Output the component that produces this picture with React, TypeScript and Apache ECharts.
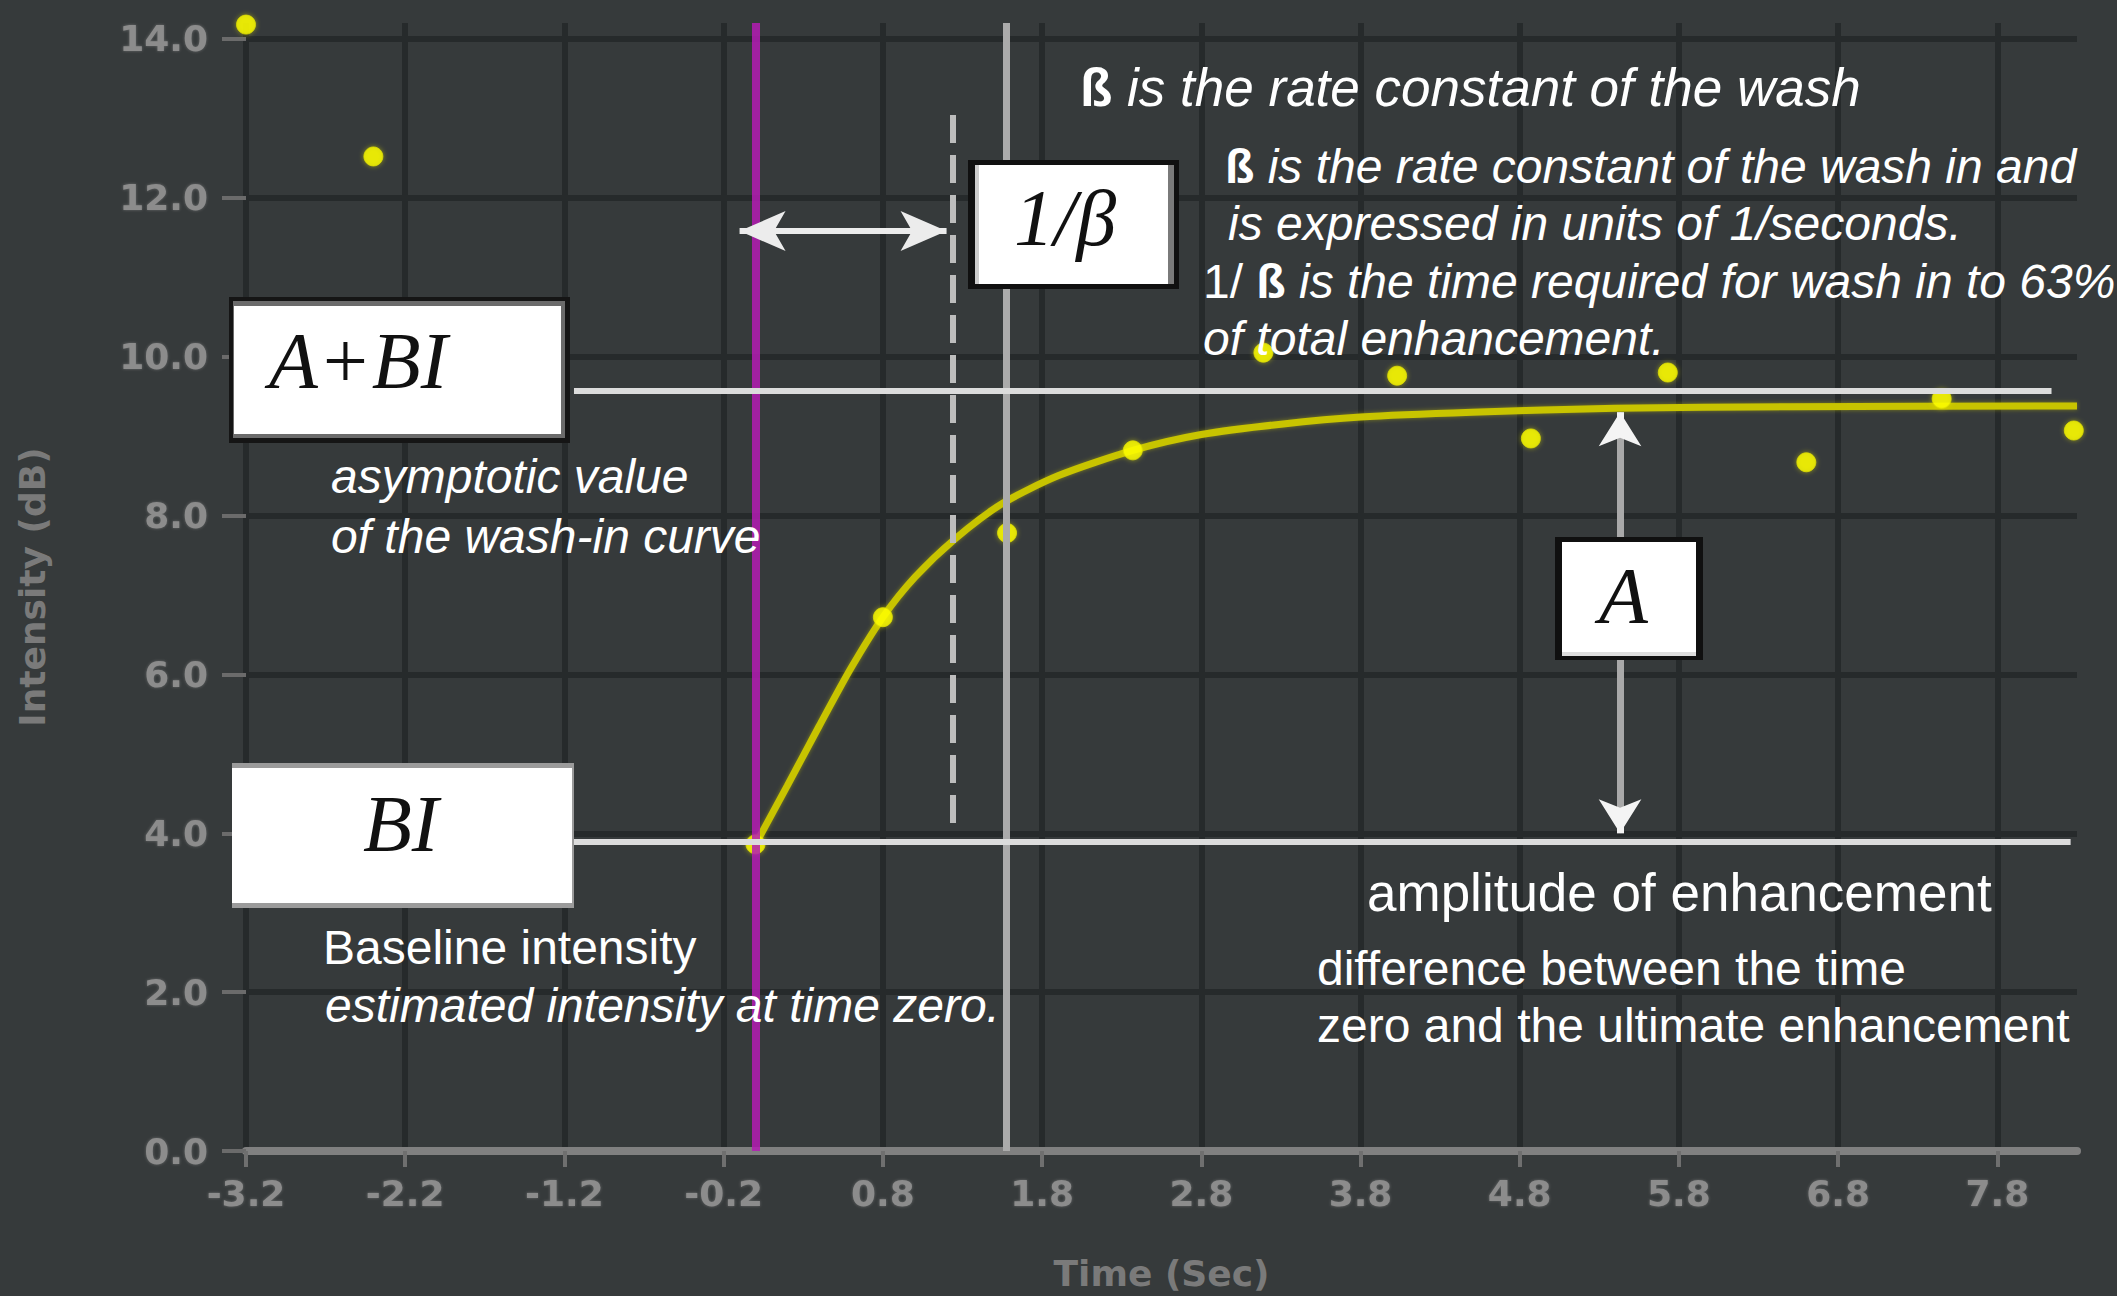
import React, { useEffect, useRef } from 'react';
import * as echarts from 'echarts';

// ---- axis definition ----
const xRange = [-3.2, 8.3];
const yRange = [0, 14.2];
const xTickValues = [-3.2, -2.2, -1.2, -0.2, 0.8, 1.8, 2.8, 3.8, 4.8, 5.8, 6.8, 7.8];
const yTickValues = [0, 2, 4, 6, 8, 10, 12, 14];

// ---- measured samples (yellow dots) ----
const measuredTimes = [-3.2, -2.4, 0.0, 0.8, 1.58, 2.37, 3.19, 4.03, 4.87, 5.73, 6.6, 7.45, 8.28];
const measuredIntensity = [14.18, 12.52, 3.86, 6.72, 7.78, 8.82, 10.05, 9.76, 8.97, 9.8, 8.67, 9.47, 9.07];

// ---- fitted wash-in curve ----
const fitTimes = [0, 0.2, 0.4, 0.6, 0.8, 1.0, 1.25, 1.55, 1.9, 2.37, 2.8, 3.3, 3.8, 4.5, 5.4, 6.5, 8.3];
const fitIntensity = [3.86, 4.6, 5.35, 6.08, 6.72, 7.22, 7.7, 8.15, 8.5, 8.82, 9.02, 9.15, 9.24, 9.3, 9.35, 9.37, 9.38];

// ---- annotation values (data units) ----
const asymptoteLevel = [9.57, -1.14, 8.14]; // value, from, to
const baselineLevel = [3.89, -1.14, 8.26];
const zeroTime = [0.0, 0, 14.2];
const markerTime = [1.577, 0, 14.2];
const tauLine = [1.238, 4.13, 13.07];
const tauArrow = [11.58, -0.1, 1.2];
const amplitudeArrow = [5.43, 4.0, 9.3];

const BG = '#363a3b';
const GRID = '#262a2b';
const AXIS_TEXT = '#8c8c8c';

function txt(x: number, y: number, text: string, size: number, italic: boolean, rich?: any, z = 110) {
  const style: any = {
    text,
    x,
    y,
    fill: '#ffffff',
    fontSize: size,
    fontFamily: '"Liberation Sans", Arial, sans-serif',
    fontStyle: italic ? 'italic' : 'normal',
    fontWeight: 'normal',
    align: 'left',
    verticalAlign: 'middle',
    textAlign: 'left',
    textVerticalAlign: 'middle',
  };
  if (rich) style.rich = rich;
  return { type: 'text', z, silent: true, style };
}

function boxText(x: number, y: number, text: string) {
  return {
    type: 'text',
    z: 120,
    silent: true,
    style: {
      text,
      x,
      y,
      fill: '#111111',
      fontSize: 80,
      fontFamily: '"Liberation Serif", "Times New Roman", serif',
      fontStyle: 'italic',
      fontWeight: 'normal',
      align: 'left',
      verticalAlign: 'middle',
      textAlign: 'left',
      textVerticalAlign: 'middle',
    },
  };
}

function rect(x: number, y: number, w: number, h: number, fill: string, z = 105) {
  return { type: 'rect', z, silent: true, shape: { x, y, width: w, height: h }, style: { fill } };
}

const betaRich = (size: number) => ({
  b: {
    fontSize: size,
    fontFamily: '"Liberation Sans", Arial, sans-serif',
    fontWeight: 'bold',
    fontStyle: 'normal',
    fill: '#ffffff',
  },
  n: {
    fontSize: size,
    fontFamily: '"Liberation Sans", Arial, sans-serif',
    fontWeight: 'normal',
    fontStyle: 'normal',
    fill: '#ffffff',
  },
});

function buildOption(): any {
  const curve = fitTimes.map((t, i) => [t, fitIntensity[i]]);
  const points = measuredTimes.map((t, i) => [t, measuredIntensity[i]]);

  const seg = (a: number[], b: number[], lineStyle: any, s0: any = 'none', s1: any = 'none', size: any = 10) => [
    { coord: a, lineStyle, symbol: s0, symbolSize: size },
    { coord: b, symbol: s1, symbolSize: size },
  ];

  const whiteLine = { color: '#dcdcdc', width: 6, type: 'solid' };
  const markLines = [
    seg([zeroTime[0], zeroTime[1]], [zeroTime[0], zeroTime[2]], { color: '#b41cb4', width: 8, type: 'solid', opacity: 0.85 }),
    seg([markerTime[0], markerTime[1]], [markerTime[0], markerTime[2]], { color: '#ababab', width: 7, type: 'solid' }),
    seg([tauLine[0], tauLine[1]], [tauLine[0], tauLine[2]], { color: '#bdbdbd', width: 6, type: [28, 12] }),
    seg([asymptoteLevel[1], asymptoteLevel[0]], [asymptoteLevel[2], asymptoteLevel[0]], whiteLine),
    seg([baselineLevel[1], baselineLevel[0]], [baselineLevel[2], baselineLevel[0]], whiteLine),
    seg([tauArrow[1], tauArrow[0]], [tauArrow[2], tauArrow[0]], { color: '#ececec', width: 6, type: 'solid' }, 'arrow', 'arrow', [30, 46]),
    seg([amplitudeArrow[0], amplitudeArrow[1]], [amplitudeArrow[0], amplitudeArrow[2]], { color: '#a9a9a9', width: 7, type: 'solid' }),
    seg([amplitudeArrow[0], amplitudeArrow[2] - 0.3], [amplitudeArrow[0], amplitudeArrow[2]], { color: '#f4f4f4', width: 7, type: 'solid' }, 'none', 'arrow', [32, 34]),
    seg([amplitudeArrow[0], amplitudeArrow[1] + 0.3], [amplitudeArrow[0], amplitudeArrow[1]], { color: '#f4f4f4', width: 7, type: 'solid' }, 'none', 'arrow', [32, 34]),
  ];

  const axisLabelStyle = {
    color: AXIS_TEXT,
    fontFamily: '"DejaVu Sans", sans-serif',
    fontWeight: 'bold',
    fontSize: 36,
    textShadowColor: 'rgba(140,140,140,0.6)',
    textShadowBlur: 3,
  };

  return {
    animation: false,
    backgroundColor: BG,
    grid: { left: 246, right: 40, top: 23, bottom: 144, containLabel: false },
    xAxis: {
      type: 'value',
      min: xRange[0],
      max: xRange[1],
      interval: 1,
      name: 'Time (Sec)',
      nameLocation: 'middle',
      nameGap: 104,
      nameTextStyle: {
        color: '#7a7a7a',
        fontFamily: '"DejaVu Sans", sans-serif',
        fontWeight: 'bold',
        fontSize: 36,
      },
      axisLine: { show: true, onZero: false, lineStyle: { color: '#808080', width: 8 } },
      axisTick: { show: true, length: 16, customValues: xTickValues, lineStyle: { color: '#6f6f6f', width: 4 } },
      axisLabel: {
        ...axisLabelStyle,
        margin: 24,
        customValues: xTickValues,
        formatter: (v: number) => v.toFixed(1),
      },
      splitLine: { show: true, lineStyle: { color: GRID, width: 6 } },
    },
    yAxis: {
      type: 'value',
      min: yRange[0],
      max: yRange[1],
      interval: 2,
      name: 'Intensity (dB)',
      nameLocation: 'middle',
      nameRotate: 90,
      nameGap: 196,
      nameTextStyle: {
        color: '#7a7a7a',
        fontFamily: '"DejaVu Sans", sans-serif',
        fontWeight: 'bold',
        fontSize: 36,
      },
      axisLine: { show: false, onZero: false },
      axisTick: { show: true, length: 24, customValues: yTickValues, lineStyle: { color: '#6b6b6b', width: 4 } },
      axisLabel: {
        ...axisLabelStyle,
        margin: 38,
        customValues: yTickValues,
        formatter: (v: number) => v.toFixed(1),
      },
      splitLine: { show: true, showMinLine: false, lineStyle: { color: GRID, width: 6 } },
    },
    series: [
      {
        type: 'line',
        name: 'fit',
        z: 2,
        data: curve,
        smooth: 0.25,
        showSymbol: false,
        silent: true,
        clip: false,
        lineStyle: { color: '#c8c400', width: 7, shadowColor: 'rgba(200,196,0,0.5)', shadowBlur: 4 },
      },
      {
        type: 'scatter',
        name: 'measured',
        z: 3,
        data: points,
        symbolSize: 19,
        clip: false,
        silent: true,
        itemStyle: { color: '#ffff00', borderColor: '#dede00', borderWidth: 1, shadowColor: 'rgba(230,230,0,0.6)', shadowBlur: 5 },
      },
      {
        type: 'line',
        name: 'annotations',
        z: 4,
        data: [],
        silent: true,
        markLine: {
          silent: true,
          animation: false,
          symbol: ['none', 'none'],
          label: { show: false },
          emphasis: { disabled: true },
          data: markLines,
        },
      },
    ],
    graphic: [
      // A+BI box
      rect(229, 297, 341, 146, '#151515'),
      rect(233, 301, 332, 137, '#6b6b6b'),
      rect(234, 306, 327, 128, '#ffffff'),
      boxText(269, 361, 'A+BI'),
      // BI box
      rect(232, 763, 342, 145, '#9b9b9b'),
      rect(232, 768, 340, 135, '#ffffff'),
      boxText(363, 824, 'BI'),
      // 1/β box
      rect(968, 160, 211, 129, '#101010'),
      rect(975, 165, 199, 119, '#7a7a7a'),
      rect(975, 165, 4, 119, '#cccccc'),
      rect(979, 165, 189, 119, '#ffffff'),
      boxText(1014, 218, '1/β'),
      // A box
      rect(1555, 537, 148, 123, '#101010'),
      rect(1562, 542, 134, 114, '#ffffff'),
      rect(1562, 652, 134, 4, '#dddddd'),
      boxText(1599, 596, 'A'),

      // annotation texts
      txt(1080, 87, '{b|ß} is the rate constant of the wash', 53, true, betaRich(53)),
      txt(1225, 166, '{b|ß} is the rate constant of the wash in and', 48, true, betaRich(48)),
      txt(1228, 223, 'is expressed in units of 1/seconds.', 48, true),
      txt(1203, 281, '{n|1/} {b|ß} is the time required for wash in to 63%', 48, true, betaRich(48)),
      txt(1203, 338, 'of total enhancement.', 48, true),
      txt(331, 476, 'asymptotic value', 48, true),
      txt(331, 536, 'of the wash-in curve', 48, true),
      txt(323, 947, 'Baseline intensity', 48, false),
      txt(325, 1005, 'estimated intensity at time zero.', 48, true),
      txt(1367, 892, 'amplitude of enhancement', 53, false),
      txt(1317, 968, 'difference between the time', 48, false),
      txt(1317, 1025, 'zero and the ultimate enhancement', 48, false),
    ],
  };
}

export default function App() {
  const ref = useRef<HTMLDivElement>(null);
  useEffect(() => {
    if (!ref.current) return;
    const chart = echarts.init(ref.current, null, { renderer: 'svg' });
    chart.setOption(buildOption());
    return () => chart.dispose();
  }, []);
  return (
    <div
      ref={ref}
      style={{ position: 'absolute', left: 0, top: 0, width: 2117, height: 1296 }}
    />
  );
}
